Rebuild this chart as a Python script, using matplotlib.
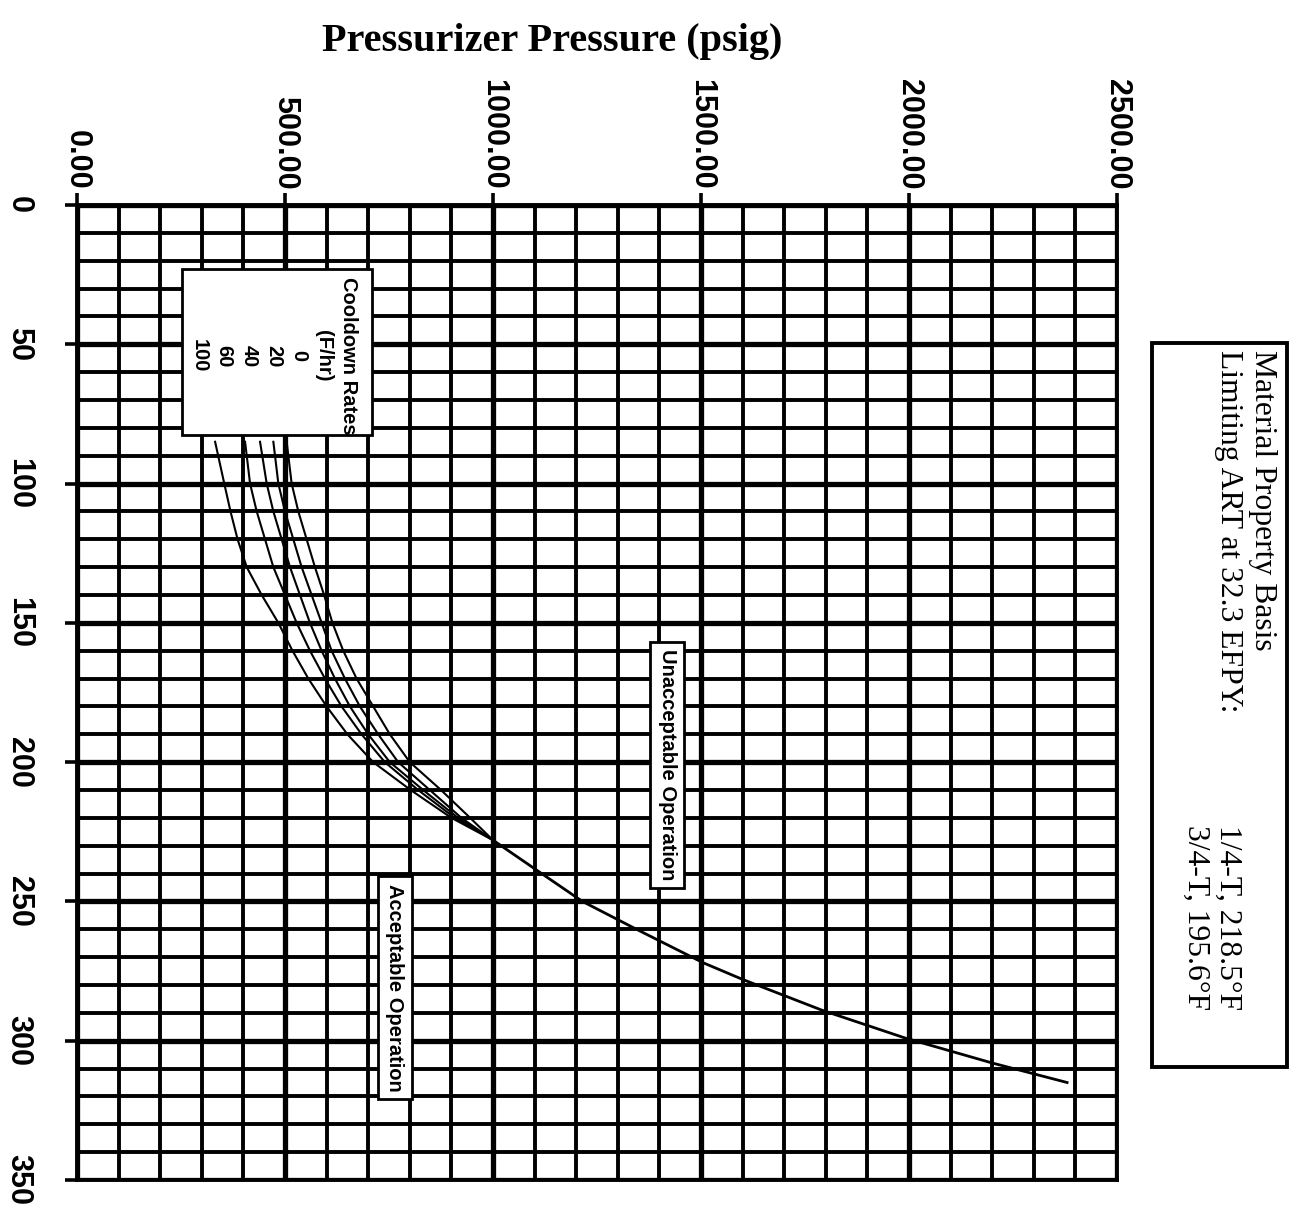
import matplotlib
matplotlib.use("Agg")
import matplotlib.pyplot as plt
from matplotlib.patches import Rectangle
from matplotlib.ticker import MultipleLocator, FormatStrFormatter

# Cooldown limit curves: reactor coolant temperature (F) vs. allowable pressure (psig)
cooldown_temps = [85, 100, 110, 120, 130, 140, 150, 160, 170, 180, 190, 200, 210, 220, 228]
p_rate_0 = [504, 516, 532, 552, 572, 594, 614, 640, 672, 712, 752, 800, 875, 945, 1000]
p_rate_20 = [472, 484, 500, 520, 540, 564, 588, 612, 644, 680, 724, 772, 848, 924, 1000]
p_rate_40 = [440, 456, 472, 492, 512, 536, 560, 588, 620, 656, 700, 752, 832, 916, 1000]
p_rate_60 = [404, 416, 432, 452, 472, 500, 528, 560, 596, 636, 684, 740, 820, 908, 1000]
p_rate_100 = [332, 354, 369, 386, 408, 444, 484, 518, 556, 600, 650, 712, 802, 900, 1000]

# Portion common to all cooldown rates
common_temps = [228, 240, 250, 260, 272, 278, 289, 299, 308, 315]
common_press = [1000, 1117, 1215, 1345, 1505, 1600, 1790, 1990, 2200, 2380]

cooldown_rates = ["0", "20", "40", "60", "100"]
pressure_ticks = [0, 500, 1000, 1500, 2000, 2500]
temp_ticks = [0, 50, 100, 150, 200, 250, 300, 350]

W, H = 1300, 1214
fig = plt.figure(figsize=(W / 100, H / 100), dpi=100)
fig.patch.set_facecolor("white")


def fx(px):
    return px / W


def fy(py):
    return 1 - py / H


ax = fig.add_axes([fx(77), fy(1180), fx(1117) - fx(77), fy(205) - fy(1180)])
ax.set_xlim(0, 2500)
ax.set_ylim(350, 0)

# grid: heavier lines every 500 psig / 50 F, lighter every 100 psig / 10 F
ax.xaxis.set_major_locator(MultipleLocator(500))
ax.xaxis.set_minor_locator(MultipleLocator(100))
ax.yaxis.set_major_locator(MultipleLocator(50))
ax.yaxis.set_minor_locator(MultipleLocator(10))
ax.grid(which="major", color="black", lw=3.8, zorder=0)
ax.grid(which="minor", color="black", lw=2.8, zorder=0)
ax.set_axisbelow(True)
for s in ax.spines.values():
    s.set_linewidth(2.8)

ax.xaxis.tick_top()
ax.xaxis.set_major_formatter(FormatStrFormatter("%.2f"))
ax.set_xticks(pressure_ticks)
ax.set_yticks(temp_ticks)
ax.tick_params(axis="x", which="major", direction="out", length=9, width=2.6, pad=2,
               labelrotation=-90, labelsize=22)
ax.tick_params(axis="y", which="major", direction="out", length=9, width=2.6, pad=33,
               labelrotation=-90, labelsize=22)
ax.tick_params(which="minor", length=0)
for lab in ax.get_xticklabels():
    lab.set_fontfamily("Liberation Sans")
    lab.set_fontweight("bold")
    lab.set_ha("center")
    lab.set_va("bottom")
for lab in ax.get_yticklabels():
    lab.set_fontfamily("Liberation Sans")
    lab.set_fontweight("bold")
    lab.set_ha("center")
    lab.set_va("center")

for series in [p_rate_0, p_rate_20, p_rate_40, p_rate_60, p_rate_100]:
    ax.plot(series, cooldown_temps, color="black", lw=1.5, zorder=3)
ax.plot(common_press, common_temps, color="black", lw=2.0, zorder=3)

# cooldown-rate key
ax.add_patch(Rectangle((252, 23), 456, 59.6, facecolor="white", edgecolor="black",
                       lw=2.0, zorder=4))
key_text = "Cooldown Rates\n(F/hr)\n" + "\n".join(cooldown_rates)
ax.text(473, 54.2, key_text, rotation=-90, ha="center", va="center",
        multialignment="center", fontsize=14.5, fontweight="bold",
        family="Liberation Sans", linespacing=1.4, zorder=5)

box = dict(boxstyle="square,pad=0.38", facecolor="white", edgecolor="black", lw=2.0)
ax.text(1419, 201, "Unacceptable Operation", rotation=-90, ha="center", va="center",
        fontsize=14.5, fontweight="bold", family="Liberation Sans", bbox=box, zorder=5)
ax.text(764, 281, "Acceptable Operation", rotation=-90, ha="center", va="center",
        fontsize=14.5, fontweight="bold", family="Liberation Sans", bbox=box, zorder=5)

# title
fig.text(fx(552), fy(42), "Pressurizer Pressure (psig)", ha="center", va="center",
         fontsize=29, fontweight="bold", family="Liberation Serif")

# material property basis box
fig.patches.append(Rectangle((fx(1152), fy(1067)), fx(1287) - fx(1152), fy(343) - fy(1067),
                             transform=fig.transFigure, facecolor="none",
                             edgecolor="black", lw=2.8))
serif = dict(rotation=-90, fontsize=22.8, family="Liberation Serif", ha="center")
fig.text(fx(1262), fy(350), "Material Property Basis", va="top", **serif)
fig.text(fx(1228), fy(350), "Limiting ART at 32.3 EFPY:", va="top", **serif)
fig.text(fx(1228), fy(1010), "1/4-T, 218.5°F", va="bottom", **serif)
fig.text(fx(1196), fy(1010), "3/4-T, 195.6°F", va="bottom", **serif)

fig.savefig("out.png", dpi=100, facecolor="white")
